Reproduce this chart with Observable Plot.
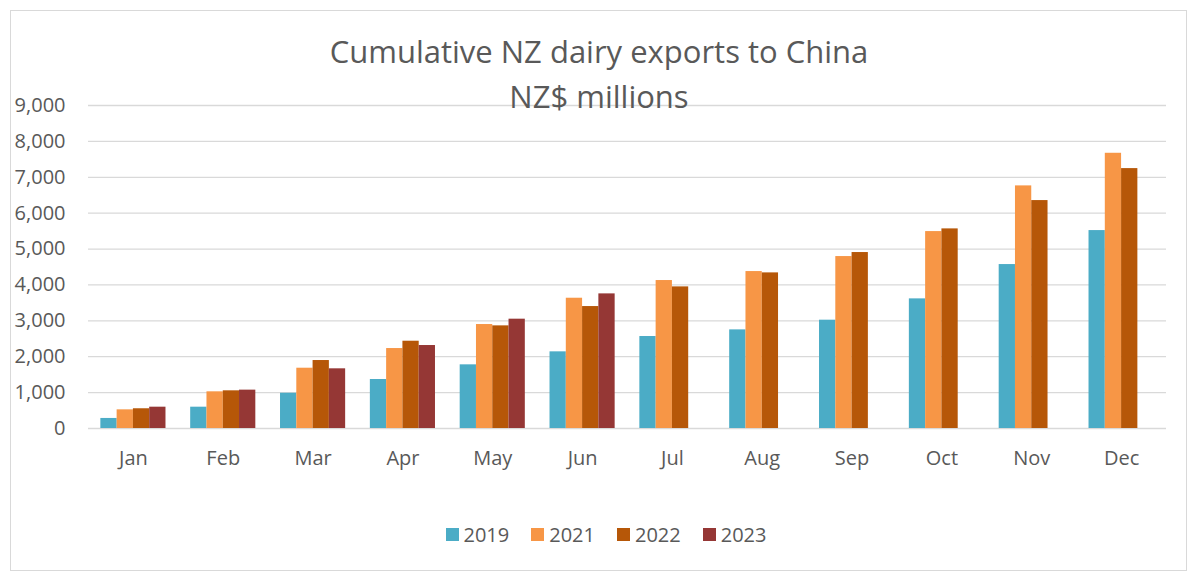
<!DOCTYPE html>
<html>
<head>
<meta charset="utf-8">
<script src="https://cdn.jsdelivr.net/npm/d3@7"></script>
<script src="https://cdn.jsdelivr.net/npm/@observablehq/plot@0.6"></script>
<style>
  html, body { margin: 0; padding: 0; background: #fff; }
  #wrap { position: relative; width: 1200px; height: 579px; overflow: hidden; font-family: "Open Sans", sans-serif; color: #595959; }
  #frame { position: absolute; left: 10px; top: 10px; width: 1177px; height: 561px; border: 1px solid #d9d9d9; box-sizing: border-box; }
  .title { position: absolute; left: 0; width: 1198px; text-align: center; font-size: 31px; color: #595959; line-height: 1; }
  .layer { position: absolute; left: 0; top: 0; }
  #legend { position: absolute; left: 6px; width: 1200px; top: 521px; display: flex; justify-content: center; gap: 22px; font-size: 20px; color: #595959; }
  .item { display: flex; align-items: center; gap: 5px; }
  .sw { width: 13px; height: 13px; display: inline-block; }
</style>
</head>
<body>
<div id="wrap">
  <div id="frame"></div>
  <div id="base" class="layer"></div>
  <div id="bars" class="layer"></div>
  <div class="title" style="top:36px">Cumulative NZ dairy exports to China</div>
  <div class="title" style="top:81px">NZ$ millions</div>
  <div id="legend"></div>
</div>
<script>
const months = ["Jan","Feb","Mar","Apr","May","Jun","Jul","Aug","Sep","Oct","Nov","Dec"];
const years = ["2019","2021","2022","2023"];
const colors = ["#4bacc6","#f79646","#b65708","#953735"];
const v2019 = [280, 594, 983, 1365, 1774, 2136, 2563, 2748, 3018, 3612, 4568, 5515];
const v2021 = [520, 1022, 1680, 2228, 2897, 3630, 4123, 4373, 4791, 5487, 6760, 7669];
const v2022 = [550, 1050, 1894, 2432, 2860, 3398, 3946, 4336, 4903, 5562, 6351, 7242];
const v2023 = [594, 1069, 1663, 2312, 3046, 3751];
const yTicks = [0, 1000, 2000, 3000, 4000, 5000, 6000, 7000, 8000, 9000];

const series = [v2019, v2021, v2022, v2023];
const data = [];
series.forEach((vals, i) => {
  vals.forEach((v, j) => data.push({month: months[j], year: years[i], value: v}));
});

const common = {
  width: 1200,
  height: 478,
  marginTop: 105,
  marginLeft: 88,
  marginRight: 34,
  marginBottom: 50,
  style: { fontFamily: "Open Sans, sans-serif", fontSize: "20px", color: "#595959", background: "transparent" }
};

// Base layer: gridlines and axes
const base = Plot.plot({
  ...common,
  x: { domain: months, paddingInner: 0.275, paddingOuter: 0.1375, round: false, label: null },
  y: { domain: [0, 9000], ticks: yTicks, label: null },
  marks: [
    Plot.gridY(yTicks, { stroke: "#d9d9d9", strokeOpacity: 1, strokeWidth: 1.3 }),
    Plot.axisY(yTicks, { tickSize: 0, dx: -14, tickFormat: d3.format(","), fill: "#595959", fontSize: 20, label: null }),
    Plot.axisX(months, { tickSize: 0, tickPadding: 22, fill: "#595959", fontSize: 20, label: null })
  ]
});
document.getElementById("base").appendChild(base);

// Bar layer: grouped bars via fx faceting
const bars = Plot.plot({
  ...common,
  fx: { domain: months, paddingInner: 0.275, paddingOuter: 0.1375, round: false, label: null, axis: null },
  x: { domain: years, padding: 0, round: false, axis: null },
  y: { domain: [0, 9000], axis: null },
  color: { domain: years, range: colors },
  marks: [
    Plot.barY(data, { fx: "month", x: "year", y: "value", fill: "year", inset: 0 })
  ]
});
document.getElementById("bars").appendChild(bars);

const legend = document.getElementById("legend");
years.forEach((y, i) => {
  const it = document.createElement("div");
  it.className = "item";
  it.innerHTML = `<span class="sw" style="background:${colors[i]}"></span><span>${y}</span>`;
  legend.appendChild(it);
});
</script>
</body>
</html>
